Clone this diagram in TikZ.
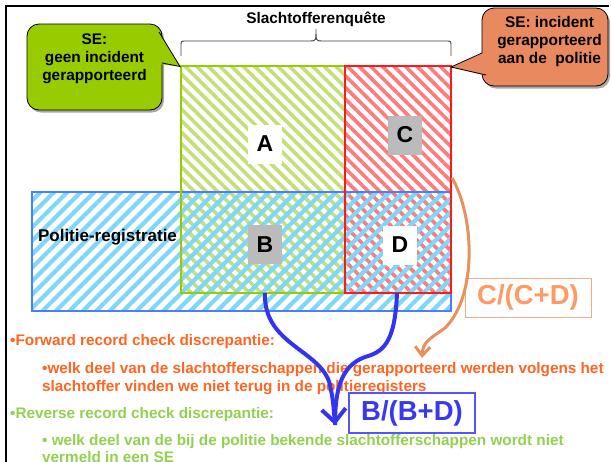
\documentclass[tikz,border=0pt]{standalone}
\usepackage{fontspec}
\setmainfont{Liberation Sans}
\usetikzlibrary{patterns.meta,arrows.meta}
\definecolor{calgreen}{HTML}{99CC00}
\definecolor{calorange}{HTML}{E8895F}
\definecolor{grnline}{HTML}{99CC00}
\definecolor{grnhatch}{HTML}{C2DF78}
\definecolor{redline}{HTML}{FF1A1A}
\definecolor{redhatch}{HTML}{FF7A7A}
\definecolor{blueline}{HTML}{4D7CFF}
\definecolor{bluehatch}{HTML}{7ED6F8}
\definecolor{fwdtxt}{HTML}{FF6420}
\definecolor{revtxt}{HTML}{92D050}
\definecolor{cdtxt}{HTML}{FF9A62}
\definecolor{cdline}{HTML}{F5AC80}
\definecolor{bdtxt}{HTML}{3838EC}
\definecolor{bdline}{HTML}{5555FF}
\definecolor{arrblue}{HTML}{3333F2}
\definecolor{arrorange}{HTML}{E8905E}
\definecolor{labgray}{HTML}{BBBBBB}
\tikzset{
  hatchbox/.style={draw=none,inner sep=0pt,outer sep=0pt},
  lab/.style={font=\fontsize{23}{23}\selectfont\bfseries,minimum width=34pt,minimum height=39pt,inner sep=0pt},
  ctext/.style={font=\fontsize{15.4}{17.8}\selectfont\bfseries,align=center,inner sep=0pt},
  bodytxt/.style={font=\fontsize{15.3}{18}\selectfont\bfseries,anchor=base west,inner sep=0pt},
  ratio/.style={font=\fontsize{27.5}{27.5}\selectfont\bfseries,minimum width=126pt,minimum height=39pt,inner sep=0pt},
  bluearr/.style={arrblue,line width=4pt},
  orarr/.style={arrorange,line width=3pt},
}
\begin{document}
\begin{tikzpicture}[x=1pt,y=-1pt]
\useasboundingbox (0,0) rectangle (611,461);
% frame
\draw[black,line width=2.3pt] (6,470) -- (6,6) -- (609,6);

% hatched regions
\node[hatchbox,pattern={Lines[angle=-45,distance=8.2pt,line width=3.6pt]},pattern color=grnhatch,
  minimum width=164pt,minimum height=227pt] (grect) at (263,179.5) {};
\node[hatchbox,pattern={Lines[angle=-45,distance=8.2pt,line width=3.6pt]},pattern color=redhatch,
  minimum width=106pt,minimum height=227pt] (rrect) at (398,179.5) {};
\node[hatchbox,pattern={Lines[angle=45,distance=9.5pt,line width=4.2pt]},pattern color=bluehatch,
  minimum width=419pt,minimum height=119pt] (brect) at (241.5,251.5) {};
\draw[blueline,line width=1.3pt] (brect.north west) rectangle (brect.south east);
\draw[grnline,line width=2pt] (grect.north west) rectangle (grect.south east);
\draw[redline,line width=2pt] (rrect.north west) rectangle (rrect.south east);

% labels
\node[lab,fill=white] (la) at (265,144) {A};
\node[lab,fill=labgray] (lc) at (405,135) {C};
\node[lab,fill=labgray] (lb) at (265,244.5) {B};
\node[lab,fill=white] (ld) at (400,245) {D};
\node[ctext,font=\fontsize{17}{19}\selectfont\bfseries] (pol) at (107.5,237.5) {Politie-registratie};

% brace and title
\node[ctext] (title) at (316,19) {Slachtofferenquête};
\draw[black!75,line width=0.9pt] (181,56) -- (181,46) .. controls (181,41) .. (186,41) -- (310,41)
  .. controls (316,41) .. (316,29) .. controls (316,41) .. (322,41) -- (446,41)
  .. controls (451,41) .. (451,46) -- (451,56);

% green callout
\fill[black!35,rounded corners=12pt] (29,26.5) rectangle (164,112.5);
\filldraw[fill=calgreen,draw=black,line width=0.8pt,rounded corners=12pt] (27,24) rectangle (162,110);
\fill[calgreen] (158.5,32) -- (180,66.5) -- (158.5,64) -- cycle;
\draw[black,line width=0.8pt] (159,32) -- (180,66.5) -- (162,63);
\node[ctext] (gcal) at (94.5,59) {SE:\\geen incident\\gerapporteerd};

% orange callout
\fill[black!35,rounded corners=12pt] (484,10.5) rectangle (610,88.5);
\filldraw[fill=calorange,draw=black,line width=0.8pt,rounded corners=12pt] (482,8) rectangle (608,86);
\fill[calorange] (485.5,52) -- (451,67) -- (487,76) -- cycle;
\draw[black,line width=0.8pt] (482,53) -- (451,67) -- (486,75);
\node[ctext] (ocal) at (549.5,41.5) {SE: incident\\gerapporteerd\\aan de\ \ politie};

% body text
\node[bodytxt,text=fwdtxt] (fwd) at (10,345) {•Forward record check discrepantie:};
\node[bodytxt,text=fwdtxt] (fwd1) at (42,373) {•welk deel van de slachtofferschappen die gerapporteerd werden volgens het};
\node[bodytxt,text=fwdtxt] (fwd2) at (42,391) {slachtoffer vinden we niet terug in de politieregisters};
\node[bodytxt,text=revtxt] (rev) at (10,418) {•Reverse record check discrepantie:};
\node[bodytxt,text=revtxt] (rev1) at (42,445) {• welk deel van de bij de politie bekende slachtofferschappen wordt niet};
\node[bodytxt,text=revtxt] (rev2) at (42,462.5) {vermeld in een SE};

% ratio boxes
\node[ratio,draw=cdline,line width=1pt,text=cdtxt] (cd) at (528,297.5) {C/(C+D)};
\node[ratio,draw=bdline,line width=1.2pt,text=bdtxt,minimum height=40pt] (bd) at (412,413) {B/(B+D)};

% arrows
\coordinate (ostart) at (452,178);
\coordinate (otip) at (422,358);
\draw[orarr,-{Straight Barb[length=9pt,width=15pt]}] (ostart) .. controls (474,215) and (478,295) .. (445,328)
  .. controls (428,340) and (423,342) .. (otip);
\coordinate (bstart) at (265,293);
\coordinate (dstart) at (397,293);
\coordinate (btip) at (335,425);
\draw[bluearr] (dstart) .. controls (395,345) and (382,352) .. (365,357)
  .. controls (340,366) and (335,392) .. (btip);
\draw[bluearr,-{Straight Barb[length=13pt,width=24pt]}] (bstart) .. controls (263,345) and (322,350) .. (330,385)
  .. controls (333,400) .. (btip);
\end{tikzpicture}
\end{document}
